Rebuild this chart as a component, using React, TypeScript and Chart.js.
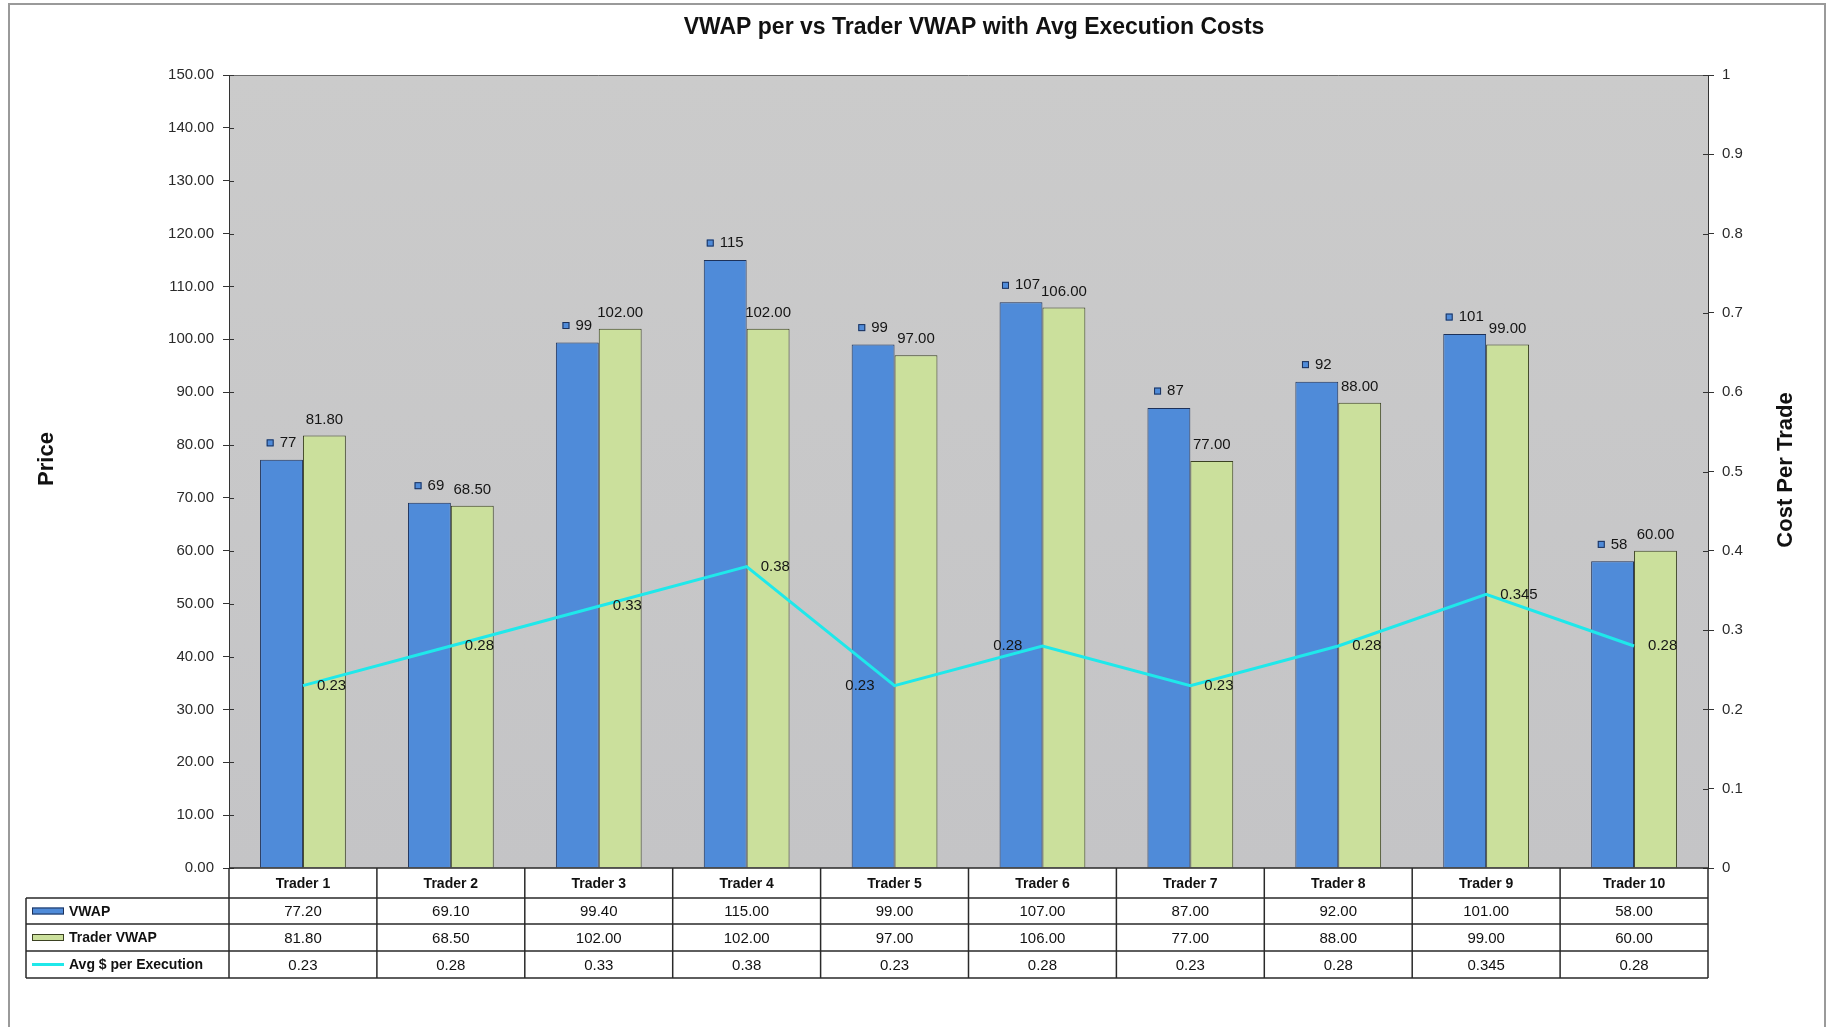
import React, { useEffect, useRef } from "react";
import { Chart, registerables } from "chart.js";

Chart.register(...registerables);

const chartTitle = "VWAP per vs Trader VWAP with Avg Execution Costs";
const leftAxisTitle = "Price";
const rightAxisTitle = "Cost Per Trade";
const traders = ["Trader 1", "Trader 2", "Trader 3", "Trader 4", "Trader 5", "Trader 6", "Trader 7", "Trader 8", "Trader 9", "Trader 10"];
const seriesNames = ["VWAP", "Trader VWAP", "Avg $ per Execution"];
const vwap = [77.2, 69.1, 99.4, 115, 99, 107, 87, 92, 101, 58];
const traderVwap = [81.8, 68.5, 102, 102, 97, 106, 77, 88, 99, 60];
const avgCost = [0.23, 0.28, 0.33, 0.38, 0.23, 0.28, 0.23, 0.28, 0.345, 0.28];
const priceMin = 0;
const priceMax = 150;
const priceStep = 10;
const costMin = 0;
const costMax = 1;
const costStep = 0.1;

const W = 1834;
const H = 1027;
const BLUE = "#4f8bd9";
const BLUE_EDGE = "#1d3159";
const GREEN = "#cbe09c";
const GREEN_EDGE = "#3b4222";
const CYAN = "#1fe8ea";
const FONT = "'Liberation Sans', Arial, sans-serif";

export default function App() {
  const ref = useRef<HTMLCanvasElement | null>(null);

  useEffect(() => {
    document.body.style.margin = "0";
    document.body.style.overflow = "hidden";
    const canvas = ref.current!;

    const drawPlugin = {
      id: "excelLook",
      beforeDraw(chart: any) {
        const ctx = chart.ctx;
        const a = chart.chartArea;
        ctx.save();
        ctx.fillStyle = "#ffffff";
        ctx.fillRect(0, 0, W, H);
        ctx.strokeStyle = "#9a9a9a";
        ctx.lineWidth = 2;
        ctx.strokeRect(9, 4, 1816, 1040);
        const g = ctx.createLinearGradient(0, a.top, 0, a.bottom);
        g.addColorStop(0, "#cbcbcb");
        g.addColorStop(1, "#c4c4c6");
        ctx.fillStyle = g;
        ctx.fillRect(a.left, a.top, a.right - a.left, a.bottom - a.top);
        ctx.strokeStyle = "#6a6a6a";
        ctx.lineWidth = 1;
        ctx.beginPath();
        ctx.moveTo(a.left, a.top + 0.5);
        ctx.lineTo(a.right, a.top + 0.5);
        ctx.stroke();
        ctx.restore();
      },
      afterDatasetsDraw(chart: any) {
        const ctx = chart.ctx;
        ctx.save();
        ctx.font = `15px ${FONT}`;
        ctx.fillStyle = "#151515";
        ctx.textBaseline = "middle";
        const m0 = chart.getDatasetMeta(0);
        m0.data.forEach((bar: any, i: number) => {
          const txt = String(Math.round(vwap[i]));
          const tw = ctx.measureText(txt).width;
          const sq = 7;
          const gap = 6;
          const gw = sq + gap + tw;
          const x0 = bar.x - gw / 2;
          const yc = bar.y - 17;
          ctx.fillStyle = BLUE;
          ctx.fillRect(x0, yc - sq / 2, sq, sq);
          ctx.strokeStyle = BLUE_EDGE;
          ctx.lineWidth = 1;
          ctx.strokeRect(x0 + 0.5, yc - sq / 2 + 0.5, sq - 1, sq - 1);
          ctx.fillStyle = "#151515";
          ctx.textAlign = "left";
          ctx.fillText(txt, x0 + sq + gap, yc);
        });
        const m1 = chart.getDatasetMeta(1);
        m1.data.forEach((bar: any, i: number) => {
          ctx.textAlign = "center";
          ctx.fillText(traderVwap[i].toFixed(2), bar.x, bar.y - 16);
        });
        const m2 = chart.getDatasetMeta(2);
        m2.data.forEach((pt: any, i: number) => {
          const leftSide = i === 4 || i === 5;
          ctx.textAlign = leftSide ? "right" : "left";
          ctx.fillText(String(avgCost[i]), leftSide ? pt.x - 20 : pt.x + 14, pt.y);
        });
        ctx.restore();
      },
      afterDraw(chart: any) {
        const ctx = chart.ctx;
        const a = chart.chartArea;
        ctx.save();
        ctx.fillStyle = "#111";
        ctx.font = `bold 23px ${FONT}`;
        ctx.textAlign = "center";
        ctx.textBaseline = "middle";
        ctx.fillText(chartTitle, 974, 28);
        ctx.font = `bold 22px ${FONT}`;
        ctx.save();
        ctx.translate(47, 459);
        ctx.rotate(-Math.PI / 2);
        ctx.fillText(leftAxisTitle, 0, 0);
        ctx.restore();
        ctx.save();
        ctx.translate(1786, 470);
        ctx.rotate(-Math.PI / 2);
        ctx.fillText(rightAxisTitle, 0, 0);
        ctx.restore();
        ctx.strokeStyle = "#333";
        ctx.lineWidth = 1;
        const ys = chart.scales.y;
        ys.ticks.forEach((t: any) => {
          const y = Math.round(ys.getPixelForValue(t.value)) + 0.5;
          ctx.beginPath();
          ctx.moveTo(a.left, y);
          ctx.lineTo(a.left + 5, y);
          ctx.stroke();
        });
        const y1 = chart.scales.y1;
        y1.ticks.forEach((t: any) => {
          const y = Math.round(y1.getPixelForValue(t.value)) + 0.5;
          ctx.beginPath();
          ctx.moveTo(a.right - 5, y);
          ctx.lineTo(a.right, y);
          ctx.stroke();
        });
        const n = traders.length;
        const cw = (a.right - a.left) / n;
        const rowTops = [a.bottom, a.bottom + 30, a.bottom + 56, a.bottom + 83, a.bottom + 110];
        const legL = 26;
        ctx.strokeStyle = "#2a2a2a";
        ctx.lineWidth = 1.5;
        ctx.beginPath();
        ctx.moveTo(a.left, rowTops[0]);
        ctx.lineTo(a.right, rowTops[0]);
        for (let r = 1; r < rowTops.length; r++) {
          ctx.moveTo(legL, rowTops[r]);
          ctx.lineTo(a.right, rowTops[r]);
        }
        for (let c = 0; c <= n; c++) {
          const x = a.left + c * cw;
          ctx.moveTo(x, rowTops[0]);
          ctx.lineTo(x, rowTops[4]);
        }
        ctx.moveTo(legL, rowTops[1]);
        ctx.lineTo(legL, rowTops[4]);
        ctx.stroke();
        ctx.fillStyle = "#111";
        ctx.textAlign = "center";
        ctx.textBaseline = "middle";
        const rows = [
          vwap.map((v) => v.toFixed(2)),
          traderVwap.map((v) => v.toFixed(2)),
          avgCost.map((v) => String(v)),
        ];
        for (let c = 0; c < n; c++) {
          const cx = a.left + (c + 0.5) * cw;
          ctx.font = `bold 14px ${FONT}`;
          ctx.fillText(traders[c], cx, (rowTops[0] + rowTops[1]) / 2 + 1);
          ctx.font = `15px ${FONT}`;
          for (let r = 0; r < 3; r++) {
            ctx.fillText(rows[r][c], cx, (rowTops[r + 1] + rowTops[r + 2]) / 2 + 1);
          }
        }
        ctx.textAlign = "left";
        ctx.font = `bold 14px ${FONT}`;
        for (let r = 0; r < 3; r++) {
          const yc = (rowTops[r + 1] + rowTops[r + 2]) / 2;
          if (r < 2) {
            ctx.fillStyle = r === 0 ? BLUE : GREEN;
            ctx.fillRect(32, yc - 3.5, 32, 7);
            ctx.strokeStyle = r === 0 ? BLUE_EDGE : GREEN_EDGE;
            ctx.lineWidth = 1;
            ctx.strokeRect(32.5, yc - 3, 31, 6);
          } else {
            ctx.strokeStyle = CYAN;
            ctx.lineWidth = 3;
            ctx.beginPath();
            ctx.moveTo(32, yc);
            ctx.lineTo(64, yc);
            ctx.stroke();
          }
          ctx.fillStyle = "#111";
          ctx.fillText(seriesNames[r], 69, yc + 1);
        }
        ctx.restore();
      },
    };

    const chart = new Chart(canvas, {
      type: "bar",
      data: {
        labels: traders,
        datasets: [
          {
            type: "bar",
            label: seriesNames[0],
            data: vwap,
            backgroundColor: BLUE,
            borderColor: BLUE_EDGE,
            borderWidth: 1,
            yAxisID: "y",
            order: 2,
            barPercentage: 1,
            categoryPercentage: 0.58,
          },
          {
            type: "bar",
            label: seriesNames[1],
            data: traderVwap,
            backgroundColor: GREEN,
            borderColor: GREEN_EDGE,
            borderWidth: 1,
            yAxisID: "y",
            order: 2,
            barPercentage: 1,
            categoryPercentage: 0.58,
          },
          {
            type: "line",
            label: seriesNames[2],
            data: avgCost,
            borderColor: CYAN,
            backgroundColor: CYAN,
            borderWidth: 3,
            pointRadius: 0,
            tension: 0,
            yAxisID: "y1",
            order: 0,
          } as any,
        ],
      },
      options: {
        responsive: false,
        animation: false,
        devicePixelRatio: 1,
        layout: { padding: { left: 0, right: 0, top: 75, bottom: 159 } },
        plugins: {
          legend: { display: false },
          tooltip: { enabled: false },
          title: { display: false },
        },
        scales: {
          x: { display: false },
          y: {
            position: "left",
            min: priceMin,
            max: priceMax,
            ticks: {
              stepSize: priceStep,
              callback: (v: any) => Number(v).toFixed(2),
              font: { family: FONT, size: 15 },
              color: "#2a2a2a",
              padding: 9,
            },
            grid: { drawOnChartArea: false, drawTicks: true, tickLength: 6, color: "#333" },
            border: { display: true, color: "#333", width: 1 },
            afterFit: (s: any) => {
              s.width = 229;
            },
          },
          y1: {
            position: "right",
            min: costMin,
            max: costMax,
            ticks: {
              stepSize: costStep,
              callback: (v: any) => String(Math.round(Number(v) * 10) / 10),
              font: { family: FONT, size: 15 },
              color: "#2a2a2a",
              padding: 8,
            },
            grid: { drawOnChartArea: false, drawTicks: true, tickLength: 6, color: "#333" },
            border: { display: true, color: "#333", width: 1 },
            afterFit: (s: any) => {
              s.width = 126;
            },
          },
        },
      } as any,
      plugins: [drawPlugin],
    });

    return () => chart.destroy();
  }, []);

  return (
    <div style={{ width: W, height: H }}>
      <canvas ref={ref} width={W} height={H} style={{ display: "block", width: W, height: H }} />
    </div>
  );
}
